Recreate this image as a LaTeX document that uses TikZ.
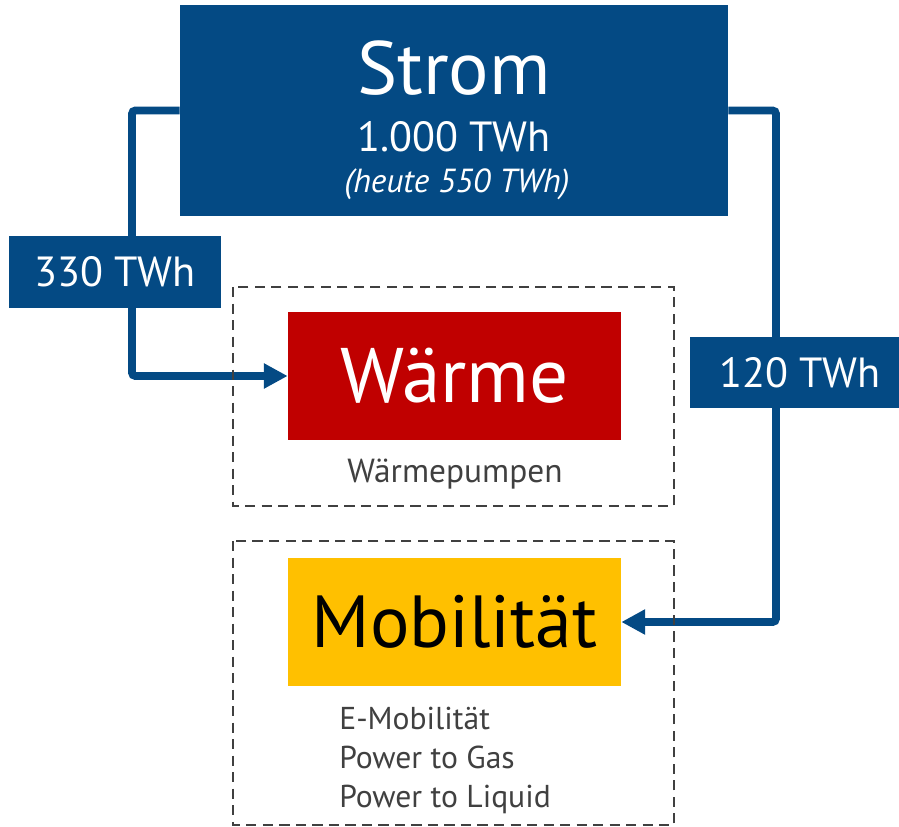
\documentclass[tikz,border=0pt]{standalone}
\usepackage{fontspec}
\setmainfont{PT Sans}
\usetikzlibrary{arrows.meta}

\definecolor{stromblau}{RGB}{4,74,132}
\definecolor{waermerot}{RGB}{192,0,0}
\definecolor{mobilgelb}{RGB}{255,192,0}
\definecolor{textgrau}{RGB}{64,64,64}

\tikzset{
  block/.style={rectangle, inner sep=0pt},
  tag/.style={rectangle, inner sep=0pt, fill=stromblau, text=white,
    minimum height=1.43cm, font=\fontsize{24}{28}\selectfont},
  flow/.style={draw=stromblau, line width=4.5pt, rounded corners=2pt,
    -{Triangle[length=13.5pt,width=13.5pt]}},
  groupbox/.style={draw=textgrau, line width=1.2pt, dash pattern=on 5.8pt off 3.6pt},
}

\begin{document}
\begin{tikzpicture}[x=0.02cm, y=-0.02cm]
\useasboundingbox (0,0) rectangle (899,827);

% Bloecke
\node[block, fill=stromblau, minimum width=10.96cm, minimum height=4.22cm] (strom) at (454,110.5) {};
\node[anchor=base, text=white, font=\fontsize{43}{48}\selectfont] (stromtitel) at (454,95) {Strom};
\node[anchor=base, text=white, font=\fontsize{24}{28}\selectfont] (stromwert) at (454,152) {1.000 TWh};
\node[anchor=base, text=white, font=\fontsize{19}{22}\itshape] (stromheute) at (457,193) {(heute 550 TWh)};

\node[block, fill=waermerot, text=white, minimum width=6.66cm, minimum height=2.56cm,
  font=\fontsize{44}{48}\selectfont] (waerme) at (454.5,376) {Wärme};
\node[anchor=base, text=textgrau, font=\fontsize{19}{22}\selectfont] (pumpen) at (455,482) {Wärmepumpen};

\node[block, fill=mobilgelb, text=black, minimum width=6.66cm, minimum height=2.56cm,
  font=\fontsize{42}{48}\selectfont] (mobil) at (454.5,622) {Mobilität};
\node[anchor=north west, align=left, inner sep=0pt, text=textgrau,
  font=\fontsize{18}{22}\selectfont] (mobilliste) at (339,707) {E-Mobilität\\Power to Gas\\Power to Liquid};

% Verbindungen
\coordinate (lknick) at (132,110.5);
\coordinate (rknick) at (776,110.5);
\draw[flow] (strom.west) -- (lknick) |- (waerme.west);
\draw[flow] (strom.east) -- (rknick) |- (mobil.east);

% gestrichelte Gruppen
\draw[groupbox] (233,287) rectangle (674,506);
\draw[groupbox] (233,541) rectangle (674,825);

% Mengen
\node[tag, minimum width=4.24cm] (twh330) at (115,272) {330 TWh};
\node[tag, minimum width=4.4cm] (twh120) at (800,372.5) {120 TWh};
\end{tikzpicture}
\end{document}
